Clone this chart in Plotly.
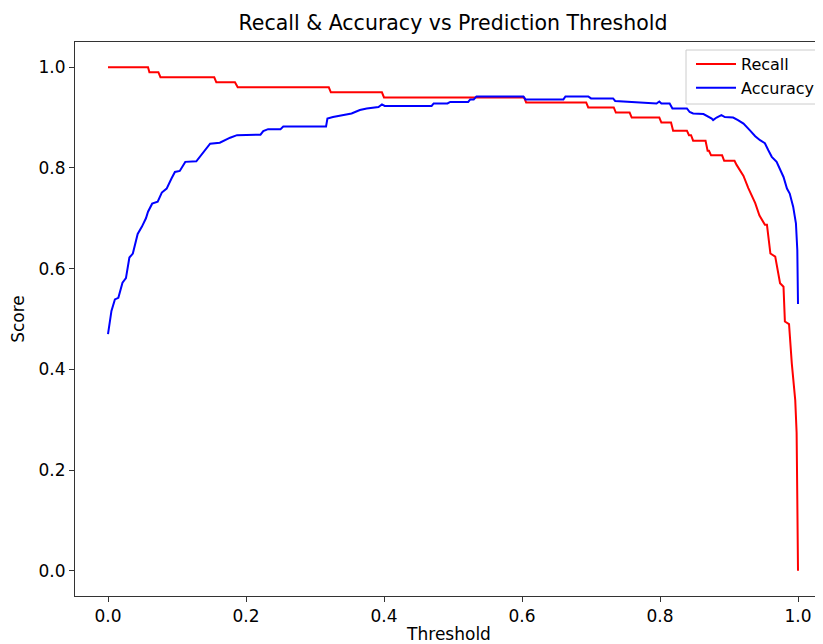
import plotly.graph_objects as go

# ---- data ----
recall_threshold = [0.000, 0.058, 0.060, 0.073, 0.076, 0.154, 0.157, 0.184, 0.188, 0.320,
                    0.323, 0.397, 0.400, 0.603, 0.606, 0.693, 0.696, 0.733, 0.736, 0.756,
                    0.759, 0.799, 0.802, 0.816, 0.819, 0.839, 0.842, 0.845, 0.848, 0.866,
                    0.869, 0.871, 0.874, 0.890, 0.893, 0.908, 0.911, 0.914, 0.921, 0.928,
                    0.938, 0.944, 0.952, 0.955, 0.960, 0.967, 0.974, 0.979, 0.981, 0.987,
                    0.991, 0.996, 0.998, 0.999, 1.000]
recall_score = [1.000, 1.000, 0.990, 0.990, 0.980, 0.980, 0.970, 0.970, 0.960, 0.960,
                0.950, 0.950, 0.940, 0.940, 0.930, 0.930, 0.920, 0.920, 0.910, 0.910,
                0.900, 0.900, 0.890, 0.890, 0.874, 0.874, 0.865, 0.865, 0.854, 0.854,
                0.834, 0.834, 0.825, 0.825, 0.814, 0.814, 0.806, 0.799, 0.784, 0.760,
                0.730, 0.706, 0.687, 0.687, 0.630, 0.624, 0.571, 0.564, 0.495, 0.490,
                0.412, 0.339, 0.274, 0.141, 0.000]

accuracy_threshold = [0.000, 0.005, 0.010, 0.015, 0.021, 0.026, 0.031, 0.036, 0.043, 0.049,
                      0.055, 0.058, 0.064, 0.072, 0.078, 0.085, 0.092, 0.097, 0.104, 0.112,
                      0.128, 0.148, 0.162, 0.177, 0.187, 0.221, 0.225, 0.232, 0.250, 0.254,
                      0.316, 0.318, 0.326, 0.339, 0.353, 0.365, 0.375, 0.392, 0.397, 0.401,
                      0.469, 0.472, 0.492, 0.496, 0.522, 0.525, 0.530, 0.534, 0.602, 0.605,
                      0.660, 0.663, 0.696, 0.700, 0.732, 0.735, 0.756, 0.795, 0.799, 0.802,
                      0.814, 0.818, 0.839, 0.843, 0.848, 0.863, 0.875, 0.877, 0.882, 0.889,
                      0.894, 0.906, 0.913, 0.921, 0.930, 0.938, 0.945, 0.952, 0.957, 0.962,
                      0.969, 0.974, 0.979, 0.984, 0.988, 0.993, 0.997, 0.999, 1.000]
accuracy_score = [0.470, 0.516, 0.539, 0.542, 0.572, 0.581, 0.622, 0.630, 0.669, 0.683,
                  0.700, 0.713, 0.729, 0.733, 0.751, 0.759, 0.779, 0.792, 0.794, 0.812,
                  0.813, 0.848, 0.850, 0.860, 0.865, 0.866, 0.873, 0.877, 0.877, 0.882,
                  0.882, 0.898, 0.901, 0.905, 0.908, 0.915, 0.918, 0.921, 0.926, 0.923,
                  0.923, 0.928, 0.928, 0.931, 0.931, 0.936, 0.936, 0.942, 0.942, 0.936,
                  0.936, 0.942, 0.942, 0.938, 0.938, 0.933, 0.931, 0.928, 0.932, 0.928,
                  0.928, 0.918, 0.918, 0.911, 0.908, 0.907, 0.898, 0.895, 0.900, 0.905,
                  0.901, 0.900, 0.895, 0.888, 0.875, 0.863, 0.855, 0.849, 0.835, 0.822,
                  0.812, 0.796, 0.782, 0.759, 0.749, 0.723, 0.690, 0.637, 0.530]

tick_values = [0.0, 0.2, 0.4, 0.6, 0.8, 1.0]
tick_labels = ["0.0", "0.2", "0.4", "0.6", "0.8", "1.0"]

FONT = "DejaVu Sans"
OFF = 8                      # page body margin of the browser
W, H = 823 - OFF, 644 - OFF  # figure size so the page ends at the window edge
# reference pixel geometry (window coords) -> figure coords
ML = 75 - OFF
MT = 42 - OFF
MB = 644 - 596
MR = 0
plot_w = W - ML - MR
plot_h = H - MT - MB
X0_PX, PX_PER_X = 108, 690   # x = 0 at 108 px in the window, 690 px per unit

fig = go.Figure()
fig.add_trace(go.Scatter(x=recall_threshold, y=recall_score, mode="lines", name="Recall",
                         line=dict(color="#ff0000", width=2)))
fig.add_trace(go.Scatter(x=accuracy_threshold, y=accuracy_score, mode="lines", name="Accuracy",
                         line=dict(color="#0000ff", width=2)))

# legend frame (extends past the right edge like the reference)
lx0 = (686 - OFF - ML) / plot_w
ly_top = 1 - (50 - OFF - MT) / plot_h
ly_bot = 1 - (104 - OFF - MT) / plot_h
fig.add_shape(type="rect", xref="paper", yref="paper", x0=lx0, x1=1.05, y0=ly_bot, y1=ly_top,
              line=dict(color="#cccccc", width=1), fillcolor="rgba(255,255,255,0.8)", layer="above")

axis_common = dict(
    showgrid=False, zeroline=False, showline=True, linecolor="#333333", linewidth=1,
    ticks="outside", ticklen=5, tickwidth=1, tickcolor="#333333",
    tickvals=tick_values, ticktext=tick_labels,
    tickfont=dict(family=FONT, size=17, color="#000000"),
)

fig.update_layout(
    width=W, height=H,
    margin=dict(l=ML, r=MR, t=MT, b=MB, autoexpand=False),
    paper_bgcolor="white", plot_bgcolor="white",
    font=dict(family=FONT, size=17, color="#000000"),
    title=dict(text="Recall & Accuracy vs Prediction Threshold", x=(453 - OFF) / W, xref="container",
               xanchor="center", y=1 - (22.5 - OFF) / H, yref="container", yanchor="middle",
               font=dict(family=FONT, size=20.5, color="#000000")),
    xaxis=dict(range=[(75 - X0_PX) / PX_PER_X, (823 - X0_PX) / PX_PER_X], mirror=True,
               title=dict(text="Threshold", standoff=10, font=dict(family=FONT, size=17)),
               **axis_common),
    yaxis=dict(range=[-0.05, 1.05], mirror=False,
               title=dict(text="Score", standoff=11, font=dict(family=FONT, size=17)),
               **axis_common),
    legend=dict(x=(691 - OFF - ML) / plot_w, xanchor="left",
                y=1 - (47 - OFF - MT) / plot_h, yanchor="top",
                bgcolor="rgba(0,0,0,0)", borderwidth=0, itemwidth=40, tracegroupgap=0,
                font=dict(family=FONT, size=16, color="#000000")),
    showlegend=True,
)

fig.write_html("out.html")
